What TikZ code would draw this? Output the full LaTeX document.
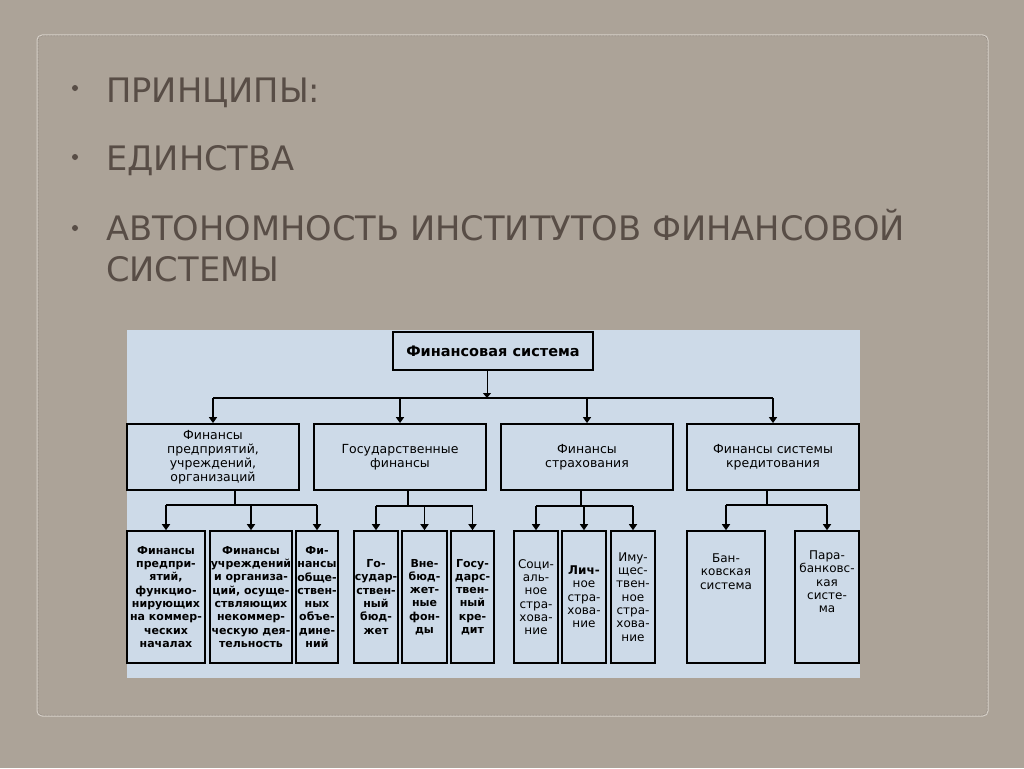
\documentclass[tikz,border=0pt]{standalone}
\usepackage{fontspec}
\setmainfont{DejaVu Sans}
\usepackage{tikz}
\usetikzlibrary{arrows.meta, positioning}
\definecolor{slidebg}{RGB}{172,163,152}
\definecolor{slidetext}{RGB}{88,77,70}
\definecolor{slideframe}{RGB}{214,208,200}
\definecolor{panelblue}{RGB}{205,218,232}

\begin{document}
\begin{tikzpicture}[x=1pt, y=-1pt,
  mainbox/.style={draw, line width=1.3pt, minimum width=200pt, minimum height=38pt,
                  font=\bfseries\fontsize{14.5}{16}\selectfont},
  branch/.style={draw, line width=1.8pt, minimum width=172pt, minimum height=66pt,
                 align=center, inner sep=1pt, font=\fontsize{12.5}{14}\selectfont},
  leaf/.style={draw, line width=1.6pt, minimum height=132pt, align=center,
               inner sep=0.5pt, font=\bfseries\fontsize{11}{13.3}\selectfont},
  leafreg/.style={leaf, font=\fontsize{12}{13.3}\selectfont},
  leaftext/.style={align=center, inner sep=0.5pt, font=\fontsize{12}{13.3}\selectfont},
  bullet/.style={circle, fill=slidetext, inner sep=0pt, minimum size=6pt},
  point/.style={anchor=base west, inner sep=0pt, text=slidetext,
                font=\fontsize{33.7}{40}\selectfont},
  thinarrow/.style={-{Triangle[width=8pt,length=5pt]}, line width=1pt},
  arrow/.style={-{Triangle[width=8pt,length=6pt]}, line width=1.6pt},
  bus/.style={line width=1.6pt}
]
\useasboundingbox (0,0) rectangle (1024,768);
\fill[slidebg] (0,0) rectangle (1024,768);

%% Slide frame
\draw[slideframe, line width=1pt, rounded corners=5pt] (37,35) rectangle (988,716);
\draw[slidetext!80, line width=0.5pt, densely dotted, rounded corners=4pt] (38,36) rectangle (987,715);

%% Bullet points
\node[bullet] (b1) at (75,88) {};
\node[point] (p1) at (106,102) {ПРИНЦИПЫ:};
\node[bullet] (b2) at (75,157) {};
\node[point] (p2) at (106,170) {ЕДИНСТВА};
\node[bullet] (b3) at (75,228) {};
\node[point] (p3) at (106,240) {АВТОНОМНОСТЬ ИНСТИТУТОВ ФИНАНСОВОЙ};
\node[point] (p4) at (106,281) {СИСТЕМЫ};

%% Diagram panel
\fill[panelblue] (127,330) rectangle (860,678);

%% Level 1
\node[mainbox] (finsys) at (493,351) {Финансовая система};

%% Level 2
\node[branch] (fin1) at (213,457) {Финансы\\предприятий,\\учреждений,\\организаций};
\node[branch] (fin2) at (400,457) {Государственные\\финансы};
\node[branch] (fin3) at (587,457) {Финансы\\страхования};
\node[branch] (fin4) at (773,457) {Финансы системы\\кредитования};

\coordinate (bus1) at (487,398);
\draw[thinarrow] (bus1 |- finsys.south) -- (bus1);
\draw[line width=1.2pt] (fin1.north |- bus1) -- (fin4.north |- bus1);
\foreach \n in {fin1, fin2, fin3, fin4}
  \draw[arrow] (\n.north |- bus1) -- (\n.north);

%% Level 3: enterprises
\node[leaf, minimum width=78pt] (enterp) at (166,597)
  {Финансы\\предпри-\\ятий,\\функцио-\\нирующих\\на коммер-\\ческих\\началах};
\node[leaf, minimum width=82pt] (nonprof) at (251,597)
  {Финансы\\учреждений\\и организа-\\ций, осуще-\\ствляющих\\некоммер-\\ческую дея-\\тельность};
\node[leaf, minimum width=42pt] (assoc) at (317,597)
  {Фи-\\нансы\\обще-\\ствен-\\ных\\объе-\\дине-\\ний};

%% Level 3: state finance
\node[leaf, minimum width=44pt] (budget) at (376,597)
  {Го-\\судар-\\ствен-\\ный\\бюд-\\жет};
\node[leaf, minimum width=45pt] (funds) at (424.5,597)
  {Вне-\\бюд-\\жет-\\ные\\фон-\\ды};
\node[leaf, minimum width=43pt] (credit) at (472.5,597)
  {Госу-\\дарс-\\твен-\\ный\\кре-\\дит};

%% Level 3: insurance
\node[leafreg, minimum width=44pt] (social) at (536,597)
  {Соци-\\аль-\\ное\\стра-\\хова-\\ние};
\node[leafreg, minimum width=44pt] (personal) at (584,597)
  {\textbf{Лич-}\\ное\\стра-\\хова-\\ние};
\node[leafreg, minimum width=44pt] (property) at (633,597)
  {Иму-\\щес-\\твен-\\ное\\стра-\\хова-\\ние};

%% Level 3: credit system
\node[leaf, minimum width=78pt] (bank) at (726,597) {};
\node[leaftext, anchor=north] (banktxt) at (726,553) {Бан-\\ковская\\система};
\node[leaf, minimum width=64pt] (parabank) at (827,597) {};
\node[leaftext, anchor=north] (parabanktxt) at (827,550) {Пара-\\банковс-\\кая\\систе-\\ма};

%% Connectors to level 3
\coordinate (drop1) at (235,505);
\draw[bus] (drop1 |- fin1.south) -- (drop1);
\draw[bus] (enterp.north |- drop1) -- (assoc.north |- drop1);
\foreach \n in {enterp, nonprof, assoc}
  \draw[arrow] (\n.north |- drop1) -- (\n.north);

\coordinate (drop2) at (408,506);
\draw[bus] (drop2 |- fin2.south) -- (drop2);
\draw[bus] (budget.north |- drop2) -- (credit.north |- drop2);
\foreach \n in {budget, funds, credit}
  \draw[arrow] (\n.north |- drop2) -- (\n.north);

\coordinate (drop3) at (581,506);
\draw[bus] (drop3 |- fin3.south) -- (drop3);
\draw[bus] (social.north |- drop3) -- (property.north |- drop3);
\foreach \n in {social, personal, property}
  \draw[arrow] (\n.north |- drop3) -- (\n.north);

\coordinate (drop4) at (767,505);
\draw[bus] (drop4 |- fin4.south) -- (drop4);
\draw[bus] (bank.north |- drop4) -- (parabank.north |- drop4);
\foreach \n in {bank, parabank}
  \draw[arrow] (\n.north |- drop4) -- (\n.north);

\end{tikzpicture}
\end{document}
